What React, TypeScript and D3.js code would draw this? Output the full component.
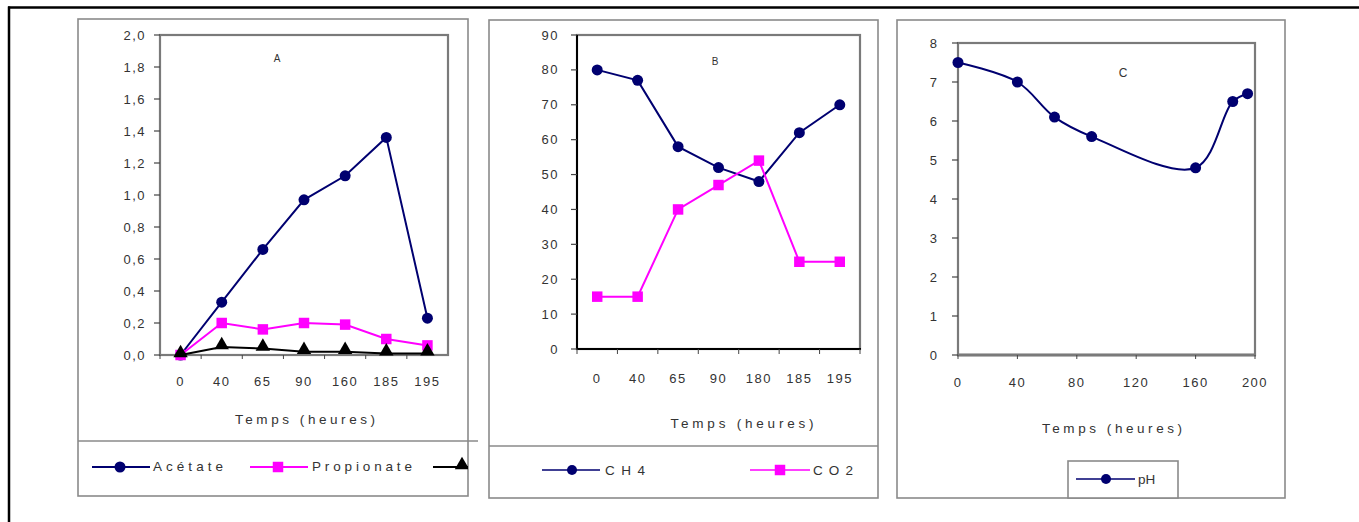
import React from "react";
import * as d3 from "d3";

// ---------- DATA ----------
const catsA = ["0", "40", "65", "90", "160", "185", "195"];
const acetate = [0, 0.33, 0.66, 0.97, 1.12, 1.36, 0.23];
const propionate = [0, 0.2, 0.16, 0.2, 0.19, 0.1, 0.06];
const butyrate = [0, 0.05, 0.04, 0.02, 0.02, 0.01, 0.01];
const yTicksA = [0, 0.2, 0.4, 0.6, 0.8, 1.0, 1.2, 1.4, 1.6, 1.8, 2.0];

const catsB = ["0", "40", "65", "90", "180", "185", "195"];
const ch4 = [80, 77, 58, 52, 48, 62, 70];
const co2 = [15, 15, 40, 47, 54, 25, 25];
const yTicksB = [0, 10, 20, 30, 40, 50, 60, 70, 80, 90];

const hoursC = [0, 40, 65, 90, 160, 185, 195];
const ph = [7.5, 7.0, 6.1, 5.6, 4.8, 6.5, 6.7];
const xTicksC = [0, 40, 80, 120, 160, 200];
const yTicksC = [0, 1, 2, 3, 4, 5, 6, 7, 8];

const NAVY = "#000070";
const MAG = "#ff00ff";
const FONT = "'Liberation Sans', Arial, sans-serif";
const TXT = "#333";
const BORDER = "#8a8a8a";
const PLOTBORDER = "#7a7a7a";

const sq = d3.symbol().type(d3.symbolSquare).size(110);
const tri = d3.symbol().type(d3.symbolTriangle).size(90);

function Circle({ x, y, r = 5.5 }: { x: number; y: number; r?: number }) {
  return <circle cx={x} cy={y} r={r} fill={NAVY} />;
}

function PanelBox({ x0, y0, x1, y1 }: any) {
  return (
    <rect x={x0} y={y0} width={x1 - x0} height={y1 - y0} fill="#fff" stroke={BORDER}
      strokeWidth={1.6} />
  );
}

export default function App() {
  // Panel A scales
  const xA = d3.scaleBand().domain(catsA).range([160, 448]);
  const yA = d3.scaleLinear().domain([0, 2]).range([355, 35]);
  const cxA = (c: string) => (xA(c) as number) + xA.bandwidth() / 2;
  const lineA = d3.line<number>().x((_, i) => cxA(catsA[i])).y((d) => yA(d));

  // Panel B scales
  const xB = d3.scaleBand().domain(catsB).range([577, 860]);
  const yB = d3.scaleLinear().domain([0, 90]).range([349, 35]);
  const cxB = (c: string) => (xB(c) as number) + xB.bandwidth() / 2;
  const lineB = d3.line<number>().x((_, i) => cxB(catsB[i])).y((d) => yB(d));

  // Panel C scales
  const xC = d3.scaleLinear().domain([0, 200]).range([958, 1255]);
  const yC = d3.scaleLinear().domain([0, 8]).range([355, 43]);
  const lineC = d3
    .line<number>()
    .x((_, i) => xC(hoursC[i]))
    .y((d) => yC(d))
    .curve(d3.curveCatmullRom.alpha(0.5));

  const fmtA = (v: number) => v.toFixed(1).replace(".", ",");

  return (
    <svg width={1359} height={522} style={{ position: "absolute", left: 0, top: 0 }}
      fontFamily={FONT}>
      <rect x={0} y={0} width={1359} height={522} fill="#fff" />
      <defs>
        <clipPath id="clipA">
          <rect x={78} y={19} width={390} height={477} />
        </clipPath>
      </defs>
      {/* outer frame */}
      <line x1={8} y1={7.5} x2={1359} y2={7.5} stroke="#000" strokeWidth={2.5} />
      <line x1={9} y1={6.5} x2={9} y2={522} stroke="#000" strokeWidth={2.5} />

      {/* ================= PANEL A ================= */}
      <PanelBox x0={78} y0={19} x1={468} y1={496} />
      <line x1={78} y1={441} x2={478} y2={441} stroke={BORDER} strokeWidth={1.6} />
      <rect x={160} y={35} width={288} height={320} fill="#fff" stroke={PLOTBORDER} strokeWidth={2.2} />
      {yTicksA.map((t) => (
        <g key={t}>
          <line x1={154} x2={160} y1={yA(t)} y2={yA(t)} stroke="#444" strokeWidth={1.2} />
          <text x={146} y={yA(t) + 4.5} textAnchor="end" fontSize={13} fill={TXT} letterSpacing={1.5}>
            {fmtA(t)}
          </text>
        </g>
      ))}
      {catsA.map((c) => (
        <g key={c}>
          <line x1={xA(c)} x2={xA(c)} y1={355} y2={359} stroke="#444" />
          <text x={cxA(c)} y={386} textAnchor="middle" fontSize={13} fill={TXT} letterSpacing={1.5}>
            {c}
          </text>
        </g>
      ))}
      <text x={277} y={62} textAnchor="middle" fontSize={10} fill={TXT}>A</text>
      <path d={lineA(acetate) as string} fill="none" stroke={NAVY} strokeWidth={2} />
      {acetate.map((v, i) => <Circle key={i} x={cxA(catsA[i])} y={yA(v)} />)}
      <path d={lineA(propionate) as string} fill="none" stroke={MAG} strokeWidth={2} />
      {propionate.map((v, i) => (
        <path key={i} d={sq() as string} transform={`translate(${cxA(catsA[i])},${yA(v)})`} fill={MAG} />
      ))}
      <path d={lineA(butyrate) as string} fill="none" stroke="#000" strokeWidth={2} />
      {butyrate.map((v, i) => (
        <path key={i} d={tri() as string} transform={`translate(${cxA(catsA[i])},${yA(v) - 2})`} fill="#000" />
      ))}
      <text x={305} y={424} textAnchor="middle" fontSize={13.5} fill={TXT} textLength={140}
        lengthAdjust="spacing">Temps (heures)</text>
      {/* legend A */}
      <g clipPath="url(#clipA)">
        <line x1={92} x2={150} y1={467} y2={467} stroke={NAVY} strokeWidth={2} />
        <Circle x={120} y={467} />
        <text x={153} y={471} fontSize={13.5} fill={TXT} textLength={70} lengthAdjust="spacing">Acétate</text>
        <line x1={250} x2={308} y1={467} y2={467} stroke={MAG} strokeWidth={2} />
        <path d={sq() as string} transform="translate(278,467)" fill={MAG} />
        <text x={312} y={471} fontSize={13.5} fill={TXT} textLength={100} lengthAdjust="spacing">Propionate</text>
        <line x1={433} x2={490} y1={467} y2={467} stroke="#000" strokeWidth={2} />
        <path d={tri() as string} transform="translate(462,465)" fill="#000" />
        <text x={495} y={471} fontSize={13.5} fill={TXT}>Butyrate</text>
      </g>

      {/* ================= PANEL B ================= */}
      <PanelBox x0={489} y0={20} x1={878} y1={498} />
      <line x1={489} y1={446} x2={878} y2={446} stroke={BORDER} strokeWidth={1.6} />
      <rect x={577} y={35} width={283} height={314} fill="#fff" stroke={PLOTBORDER} strokeWidth={2.2} />
      <line x1={577} x2={577} y1={35} y2={350} stroke="#000" strokeWidth={2} />
      <line x1={576} x2={861} y1={349} y2={349} stroke="#000" strokeWidth={2} />
      {yTicksB.map((t) => (
        <g key={t}>
          <line x1={571} x2={577} y1={yB(t)} y2={yB(t)} stroke="#444" strokeWidth={1.2} />
          <text x={559} y={yB(t) + 4.5} textAnchor="end" fontSize={13} fill={TXT} letterSpacing={1.5}>
            {t}
          </text>
        </g>
      ))}
      {catsB.map((c) => (
        <line key={c} x1={(xB(c) as number) + xB.bandwidth()} x2={(xB(c) as number) + xB.bandwidth()}
          y1={349} y2={354} stroke="#444" />
      ))}
      <line x1={577} x2={577} y1={349} y2={354} stroke="#444" />
      {catsB.map((c) => (
        <text key={c} x={cxB(c)} y={383} textAnchor="middle" fontSize={13} fill={TXT} letterSpacing={1.5}>
          {c}
        </text>
      ))}
      <text x={715} y={65} textAnchor="middle" fontSize={10} fill={TXT}>B</text>
      <path d={lineB(ch4) as string} fill="none" stroke={NAVY} strokeWidth={2} />
      {ch4.map((v, i) => <Circle key={i} x={cxB(catsB[i])} y={yB(v)} />)}
      <path d={lineB(co2) as string} fill="none" stroke={MAG} strokeWidth={2} />
      {co2.map((v, i) => (
        <path key={i} d={sq() as string} transform={`translate(${cxB(catsB[i])},${yB(v)})`} fill={MAG} />
      ))}
      <text x={742} y={428} textAnchor="middle" fontSize={13.5} fill={TXT} textLength={143}
        lengthAdjust="spacing">Temps (heures)</text>
      {/* legend B */}
      <line x1={542} x2={600} y1={470} y2={470} stroke={NAVY} strokeWidth={1.6} />
      <Circle x={572} y={470} r={5} />
      <text x={605} y={475} fontSize={13.5} fill={TXT} textLength={40} lengthAdjust="spacing">CH4</text>
      <line x1={750} x2={810} y1={470} y2={470} stroke={MAG} strokeWidth={1.6} />
      <path d={sq() as string} transform="translate(780,470)" fill={MAG} />
      <text x={813} y={475} fontSize={13.5} fill={TXT} textLength={40} lengthAdjust="spacing">CO2</text>

      {/* ================= PANEL C ================= */}
      <PanelBox x0={897} y0={20} x1={1285} y1={498} />
      <rect x={958} y={43} width={297} height={312} fill="#fff" stroke={PLOTBORDER} strokeWidth={2.2} />
      <line x1={957} x2={1256} y1={355} y2={355} stroke={PLOTBORDER} strokeWidth={3} />
      {yTicksC.map((t) => (
        <g key={t}>
          <line x1={952} x2={958} y1={yC(t)} y2={yC(t)} stroke="#444" strokeWidth={1.2} />
          <text x={937} y={yC(t) + 4.5} textAnchor="end" fontSize={13} fill={TXT}>
            {t}
          </text>
        </g>
      ))}
      {xTicksC.map((t) => (
        <g key={t}>
          <line x1={xC(t)} x2={xC(t)} y1={355} y2={359} stroke="#444" />
          <text x={xC(t)} y={387} textAnchor="middle" fontSize={13} fill={TXT} letterSpacing={1.5}>
            {t}
          </text>
        </g>
      ))}
      <text x={1123} y={77} textAnchor="middle" fontSize={12} fill={TXT}>C</text>
      <path d={lineC(ph) as string} fill="none" stroke={NAVY} strokeWidth={2} />
      {ph.map((v, i) => <Circle key={i} x={xC(hoursC[i])} y={yC(v)} />)}
      <text x={1112} y={433} textAnchor="middle" fontSize={13.5} fill={TXT} textLength={140}
        lengthAdjust="spacing">Temps (heures)</text>
      {/* legend C */}
      <rect x={1068} y={461} width={110} height={37} fill="#fff" stroke={BORDER} strokeWidth={1.6} />
      <line x1={1076} x2={1135} y1={479} y2={479} stroke={NAVY} strokeWidth={1.6} />
      <Circle x={1106} y={479} r={5} />
      <text x={1138} y={484} fontSize={13.5} fill={TXT}>pH</text>
    </svg>
  );
}
